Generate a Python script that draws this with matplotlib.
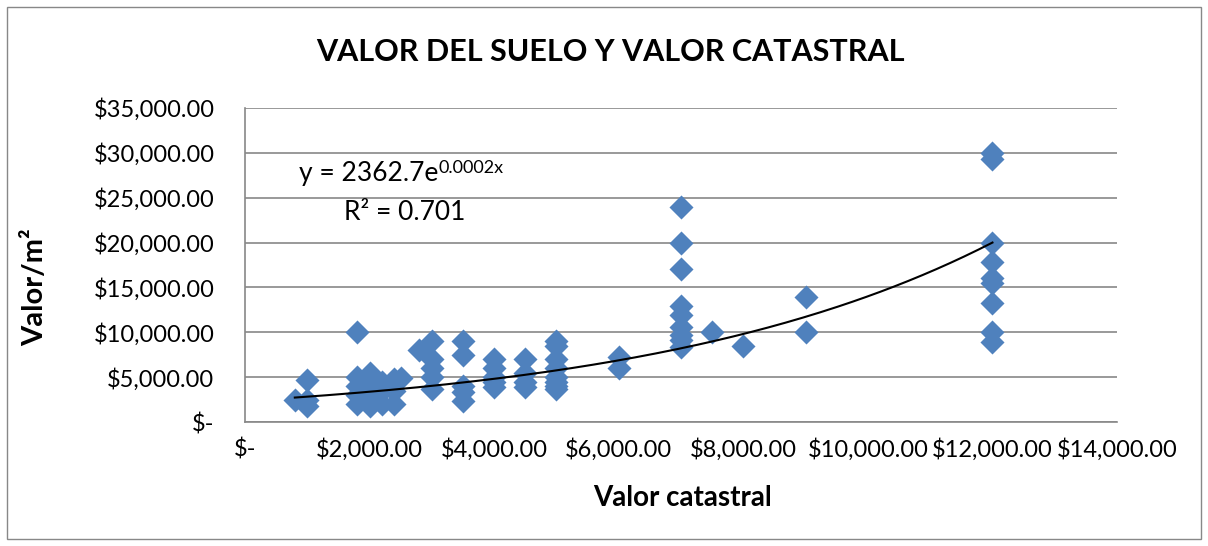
import numpy as np
import matplotlib.pyplot as plt
from matplotlib.ticker import FuncFormatter, MultipleLocator
from matplotlib.patches import Rectangle

plt.rcParams['font.family'] = ['Lato', 'DejaVu Sans']

# valor catastral (x) y valor por m2 (y)
catastral = [800, 1000, 1000, 1000,
             1800, 1800, 1800, 1800, 1800,
             2000, 2000, 2000, 2000, 2000,
             2200, 2200, 2200, 2400, 2400, 2400, 2500,
             2800, 3000, 3000, 3000, 3000, 3000,
             3500, 3500, 3500, 3500, 3500,
             4000, 4000, 4000, 4000, 4000,
             4500, 4500, 4500, 4500,
             5000, 5000, 5000, 5000, 5000, 5000, 5000, 5000,
             6000, 6000,
             7000, 7000, 7000, 7000, 7000, 7000, 7000, 7000, 7000,
             7500, 8000, 9000, 9000,
             12000, 12000, 12000, 12000, 12000, 12000, 12000, 12000, 12000]
valor_m2 = [2400, 4700, 2500, 1800,
            10000, 5000, 4000, 3000, 2000,
            5500, 4500, 3500, 2500, 1800,
            4500, 3500, 2000, 4800, 3500, 2000, 4900,
            8000, 9000, 7000, 6000, 5000, 3700,
            9000, 7500, 4000, 3300, 2300,
            7000, 6000, 5000, 4500, 3900,
            7000, 5500, 4500, 3900,
            9000, 8500, 7000, 6000, 5000, 4500, 4000, 3700,
            7200, 6000,
            24000, 20000, 17000, 12900, 11900, 10600, 9700, 9100, 8400,
            10000, 8500, 13900, 10000,
            30000, 29300, 20000, 17800, 16000, 15500, 13300, 10000, 8900]

# tendencia exponencial (etiqueta redondeada en el grafico)
coef_a = 2362.7
coef_b = 0.000178

fig = plt.figure(figsize=(12.08, 5.46), dpi=100)
fig.patches.append(Rectangle((0.006, 0.012), 0.988, 0.975, transform=fig.transFigure,
                             fill=False, edgecolor='#888888', linewidth=1))
ax = fig.add_axes([0.2028, 0.2271, 0.7219, 0.5751])

ax.scatter(catastral, valor_m2, marker='D', s=150, color='#4F81BD', zorder=3, linewidths=0)
xs = np.linspace(min(catastral), max(catastral), 200)
ax.plot(xs, coef_a * np.exp(coef_b * xs), color='black', linewidth=1.5, zorder=4)

ax.set_xlim(0, 14000)
ax.set_ylim(0, 35000)
ax.xaxis.set_major_locator(MultipleLocator(2000))
ax.yaxis.set_major_locator(MultipleLocator(5000))


def money(v, pos):
    if v == 0:
        return '$-'
    return '${:,.2f}'.format(v)


ax.xaxis.set_major_formatter(FuncFormatter(money))
ax.yaxis.set_major_formatter(FuncFormatter(money))
ax.tick_params(axis='both', labelsize=17, length=0)
ax.tick_params(axis='x', pad=12)
ax.tick_params(axis='y', pad=22)

ax.grid(axis='y', color='#888888', linewidth=1.2)
ax.set_axisbelow(True)
for side in ['top', 'right']:
    ax.spines[side].set_visible(False)
for side in ['left', 'bottom']:
    ax.spines[side].set_color('#888888')
    ax.spines[side].set_linewidth(1.2)

fig.text(0.505, 0.905, 'VALOR DEL SUELO Y VALOR CATASTRAL', ha='center', va='center',
         fontsize=22, fontweight='bold')
fig.text(0.565, 0.088, 'Valor catastral', ha='center', va='center',
         fontsize=20, fontweight='bold')
fig.text(0.029, 0.475, 'Valor/m²', ha='center', va='center', rotation=90,
         fontsize=21, fontweight='bold')

eq = ax.text(0.062, 0.79, 'y = 2362.7e', transform=ax.transAxes, fontsize=19,
             ha='left', va='center')
ax.annotate('0.0002x', xy=(1, 0.75), xycoords=eq, fontsize=13, ha='left', va='center')
ax.text(0.113, 0.667, 'R² = 0.701', transform=ax.transAxes, fontsize=19,
        ha='left', va='center')

fig.savefig('out.png', dpi=100)
